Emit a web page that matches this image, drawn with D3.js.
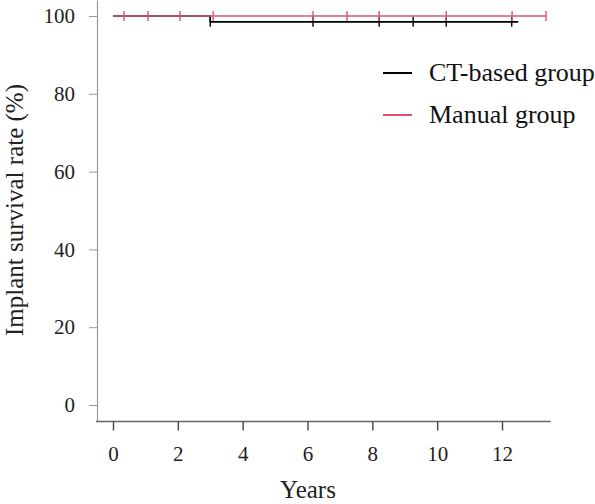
<!DOCTYPE html>
<html>
<head>
<meta charset="utf-8">
<script src="https://cdn.jsdelivr.net/npm/d3@7"></script>
<style>
  body { margin: 0; background: #fff; }
  text { font-family: "Liberation Serif", "Times New Roman", serif; }
</style>
</head>
<body>
<div id="chart"></div>
<script>
// survival curves (years, %)
const ctTimes = [0, 3.0, 3.0, 12.5];
const ctSurv = [100, 100, 98.5, 98.5];
const ctCensor = [3.0, 6.17, 8.21, 9.26, 10.28, 12.3];

const manualTimes = [0, 13.36];
const manualSurv = [100, 100];
const manualCensor = [0.34, 1.08, 2.07, 3.09, 6.17, 7.22, 8.21, 10.28, 12.31, 13.36];

const xTicks = [0, 2, 4, 6, 8, 10, 12];
const yTicks = [0, 20, 40, 60, 80, 100];
const groups = ["CT-based group", "Manual group"];
const colors = ["#000000", "#DF536B"];

const width = 595, height = 504;

const svg = d3.select("#chart").append("svg")
    .attr("width", width)
    .attr("height", height);

let x = d3.scaleLinear().domain([0, 12]).range([113, 502]);
let y = d3.scaleLinear().domain([0, 100]).range([405, 16]);

// axis lines
svg.append("line")
    .attr("x1", 97.5).attr("x2", 97.5)
    .attr("y1", y(104)).attr("y2", y(-4.2))
    .attr("stroke", "#999").attr("stroke-width", 1.2);

svg.append("line")
    .attr("x1", 96).attr("x2", x(13.5))
    .attr("y1", 421.5).attr("y2", 421.5)
    .attr("stroke", "#666").attr("stroke-width", 1.5);

// y axis
let yAxis = svg.append("g")
    .attr("transform", "translate(97,0)")
    .call(d3.axisLeft(y).tickValues(yTicks).tickSize(8).tickPadding(14));
yAxis.select(".domain").remove();
yAxis.selectAll(".tick line").attr("stroke", "#999");
yAxis.selectAll(".tick text")
    .attr("font-size", 21)
    .attr("fill", "#222")
    .style("font-family", "Liberation Serif");

// x axis
let xAxis = svg.append("g")
    .attr("transform", "translate(0,421.5)")
    .call(d3.axisBottom(x).tickValues(xTicks).tickSize(9).tickPadding(16));
xAxis.select(".domain").remove();
xAxis.selectAll(".tick line").attr("stroke", "#444").attr("stroke-width", 1.4);
xAxis.selectAll(".tick text")
    .attr("font-size", 21)
    .attr("fill", "#222")
    .style("font-family", "Liberation Serif");

// axis titles
svg.append("text")
    .attr("transform", "translate(23,210) rotate(-90)")
    .attr("text-anchor", "middle")
    .attr("font-size", 25)
    .attr("fill", "#222")
    .text("Implant survival rate (%)");

svg.append("text")
    .attr("x", 308)
    .attr("y", 498)
    .attr("text-anchor", "middle")
    .attr("font-size", 25)
    .attr("fill", "#222")
    .text("Years");

// step curves
let line = d3.line()
    .x(d => x(d[0]))
    .y(d => y(d[1]));

function survAt(times, surv, t) {
    let s = surv[0];
    for (let i = 0; i < times.length; i++) {
        if (times[i] <= t) s = surv[i];
    }
    return s;
}

function drawCurve(times, surv, censor, color) {
    svg.append("path")
        .datum(times.map((t, i) => [t, surv[i]]))
        .attr("d", line)
        .attr("fill", "none")
        .attr("stroke", color)
        .attr("stroke-width", 1.6);

    svg.selectAll(null)
        .data(censor)
        .enter()
        .append("line")
        .attr("x1", d => x(d))
        .attr("x2", d => x(d))
        .attr("y1", d => y(survAt(times, surv, d)) - 5)
        .attr("y2", d => y(survAt(times, surv, d)) + 5)
        .attr("stroke", color)
        .attr("stroke-width", 1.4);
}

drawCurve(ctTimes, ctSurv, ctCensor, colors[0]);
drawCurve(manualTimes, manualSurv, manualCensor, colors[1]);

// legend
let legend = svg.append("g")
    .attr("transform", "translate(383,73)");

legend.selectAll(".leg")
    .data(groups)
    .enter()
    .append("g")
    .attr("transform", (d, i) => "translate(0," + i * 42 + ")")
    .each(function(d, i) {
        d3.select(this).append("line")
            .attr("x1", 0).attr("x2", 29)
            .attr("stroke", colors[i])
            .attr("stroke-width", 2);
        d3.select(this).append("text")
            .attr("x", 46)
            .attr("y", 8)
            .attr("font-size", 26)
            .attr("fill", "#111")
            .text(d);
    });
</script>
</body>
</html>
